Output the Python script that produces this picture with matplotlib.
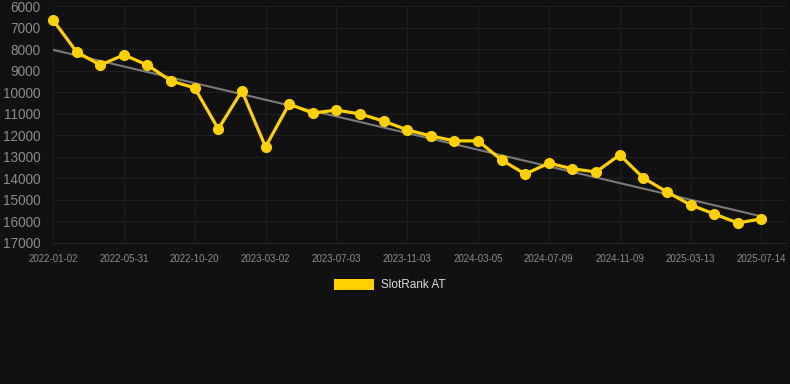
import matplotlib
matplotlib.use("Agg")
import matplotlib.pyplot as plt
from matplotlib.patches import Patch
import numpy as np

BG = "#111111"
GRID = "#1f1f1f"
GOLD = "#FFD000"
TREND = "#7a7a7a"
MUTED = "#8c8c8c"

tick_labels = ["2022-01-02", "2022-05-31", "2022-10-20", "2023-03-02", "2023-07-03",
               "2023-11-03", "2024-03-05", "2024-07-09", "2024-11-09", "2025-03-13",
               "2025-07-14"]
ranks = [6650, 8130, 8740, 8270, 8740, 9480, 9800, 11710, 9940, 12540,
         10550, 10970, 10830, 11010, 11340, 11750, 12030, 12260, 12260, 13150,
         13800, 13290, 13560, 13700, 12910, 13980, 14630, 15230, 15650, 16070,
         15880]
series_name = "SlotRank AT"

plt.rcParams["font.family"] = ["Liberation Sans", "DejaVu Sans"]

fig = plt.figure(figsize=(7.9, 3.84), dpi=100)
fig.patch.set_facecolor(BG)
ax = fig.add_axes([53 / 790, 1 - 243 / 384, (785 - 53) / 790, (243 - 6) / 384])
ax.set_facecolor(BG)

x = np.arange(len(ranks))
slope, icept = np.polyfit(x, ranks, 1)
ax.plot(x, slope * x + icept, color=TREND, linewidth=1.5, zorder=2)
ax.plot(x, ranks, color=GOLD, linewidth=2.3, marker="o", markersize=7,
        zorder=3, clip_on=False)

ax.set_xlim(0, 31.0)
ax.set_ylim(17000, 6000)
ax.set_yticks(np.arange(6000, 17001, 1000))
ax.set_xticks(np.arange(0, len(ranks), 3))
ax.set_xticklabels(tick_labels)
ax.grid(True, color=GRID, linewidth=0.8)
ax.set_axisbelow(True)
for s in ("top", "right", "left"):
    ax.spines[s].set_visible(False)
ax.spines["bottom"].set_color("#2a2a2a")
ax.tick_params(axis="y", length=0, pad=9, labelsize=9.8, colors=MUTED)
ax.tick_params(axis="x", length=0, pad=8, labelsize=7, colors=MUTED)

fig.legend(handles=[Patch(facecolor=GOLD, edgecolor="none", label=series_name)],
           loc="center", bbox_to_anchor=(0.5 - 5 / 790, 1 - 285 / 384), frameon=False,
           fontsize=8.5, labelcolor="#dddddd", handlelength=3.4, handleheight=1.1,
           handletextpad=0.6)

fig.savefig("out.png", facecolor=BG)
